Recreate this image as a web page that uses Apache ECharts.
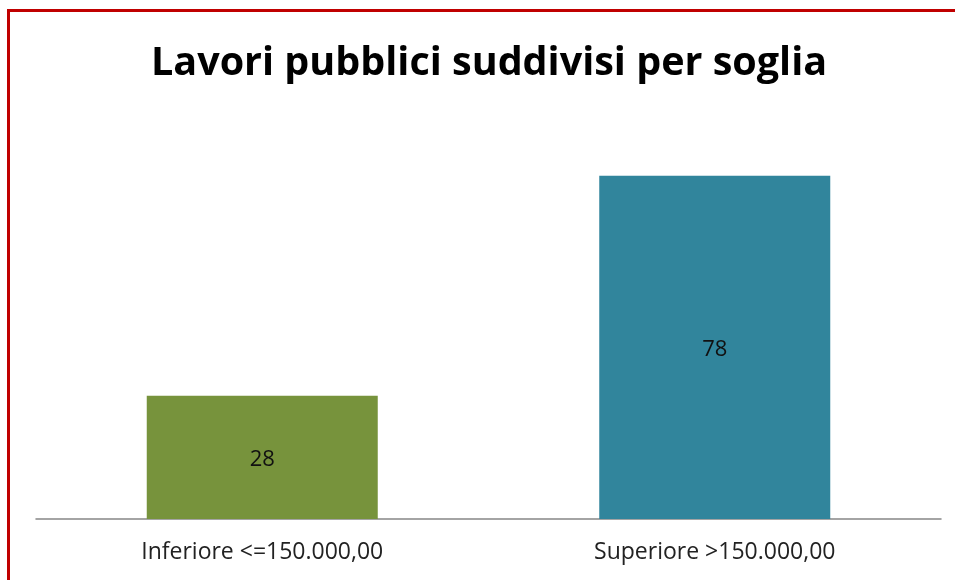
<!DOCTYPE html>
<html>
<head>
<meta charset="utf-8">
<script src="https://cdn.jsdelivr.net/npm/echarts@6/dist/echarts.min.js"></script>
<style>
  html, body { margin: 0; padding: 0; background: #fff; }
  #chart { position: absolute; left: 0; top: 0; width: 955px; height: 580px; }
  /* cornice rossa in alto e a sinistra */
  #frame {
    position: absolute; left: 7px; top: 9px; width: 960px; height: 580px;
    border-top: 3px solid #c00000; border-left: 3px solid #c00000;
    pointer-events: none; z-index: 2;
  }
</style>
</head>
<body>
<div id="chart"></div>
<div id="frame"></div>
<script>
// dati
const categories = ["Inferiore <=150.000,00", "Superiore >150.000,00"];
const values = [28, 78];
const colors = ["#77933c", "#31859c"];

const chart = echarts.init(document.getElementById("chart"));
chart.setOption({
  animation: false,
  title: {
    text: "Lavori pubblici suddivisi per soglia",
    left: 146,
    top: 39,
    textStyle: {
      fontFamily: "Open Sans",
      fontWeight: "bold",
      fontSize: 39.5,
      color: "#000"
    }
  },
  grid: { left: 36, right: 14, top: 123, bottom: 61 },
  xAxis: {
    type: "category",
    data: categories,
    axisLine: { lineStyle: { color: "#868686", width: 1.5 } },
    axisTick: { show: false },
    axisLabel: {
      fontFamily: "Open Sans",
      fontSize: 23,
      color: "#222",
      margin: 22
    }
  },
  yAxis: {
    type: "value",
    min: 0,
    max: 90,
    show: false,
    splitLine: { show: false }
  },
  series: [
    {
      type: "bar",
      barWidth: 231,
      data: values.map((v, i) => ({ value: v, itemStyle: { color: colors[i] } })),
      label: {
        show: true,
        position: "inside",
        offset: [0, 2],
        fontFamily: "Open Sans",
        fontSize: 22,
        color: "#111"
      }
    }
  ]
});
</script>
</body>
</html>
